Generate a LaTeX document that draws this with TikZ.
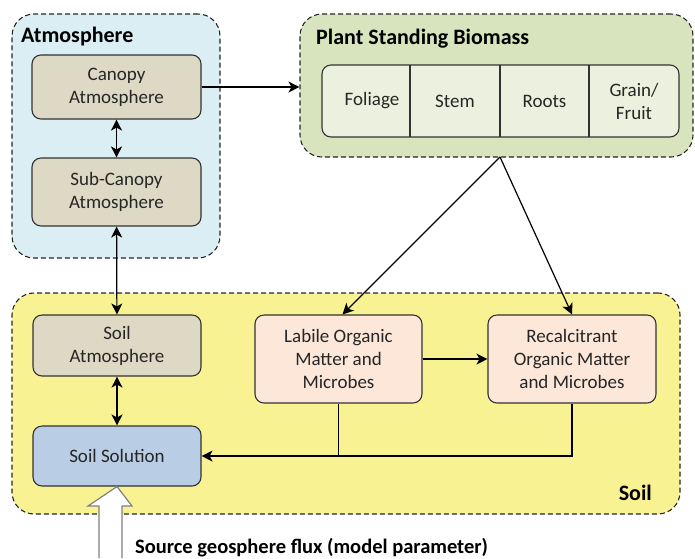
\documentclass[tikz,border=0pt]{standalone}
\usepackage{fontspec}
\setmainfont{Carlito}
\usetikzlibrary{arrows.meta}

\definecolor{atmfill}{RGB}{219,238,244}
\definecolor{tanfill}{RGB}{221,217,196}
\definecolor{plantfill}{RGB}{215,228,189}
\definecolor{organfill}{RGB}{235,241,222}
\definecolor{soilfill}{RGB}{249,242,147}
\definecolor{solfill}{RGB}{185,205,229}
\definecolor{omfill}{RGB}{252,231,217}

\tikzset{
  pool/.style={draw=black!80, line width=1.1pt, rounded corners=9pt, inner sep=0pt,
    align=center, text=black!85, font=\fontsize{19}{23}\selectfont},
  compartment/.style={draw=black!85, line width=1.1pt, dash pattern=on 5pt off 3pt,
    rounded corners=22pt, inner sep=0pt},
  heading/.style={font=\fontsize{22}{26}\selectfont\bfseries, inner sep=0pt},
  flux/.style={line width=1.2pt, -{Stealth[length=11pt,width=11pt,inset=3pt]}},
  exchange/.style={line width=1.2pt, {Stealth[length=11pt,width=11pt,inset=3pt]}-{Stealth[length=11pt,width=11pt,inset=3pt]}}
}

\begin{document}
\begin{tikzpicture}[x=1pt,y=1pt,yscale=-1,xscale=1]
\useasboundingbox (0,0) rectangle (695,558);

% compartments
\node [compartment, fill=atmfill, minimum width=208pt, minimum height=244pt] (atmos) at (116,136) {};
\node [compartment, fill=plantfill, minimum width=393pt, minimum height=143pt] (plant) at (496.5,85.5) {};
\node [compartment, fill=soilfill, minimum width=668pt, minimum height=221pt] (soil) at (346,403.5) {};

\node [heading, anchor=base west] (atmoslbl) at (21,42) {Atmosphere};
\node [heading, anchor=base west] (plantlbl) at (316,44) {Plant Standing Biomass};
\node [heading, anchor=base east] (soillbl) at (652,500) {Soil};

% atmosphere pools
\node [pool, fill=tanfill, minimum width=169pt, minimum height=64pt] (canopy) at (116.5,87) {Canopy\\Atmosphere};
\node [pool, fill=tanfill, minimum width=169pt, minimum height=68pt] (subcanopy) at (116.5,192) {Sub-Canopy\\Atmosphere};

% plant organs
\node [pool, fill=organfill, minimum width=357pt, minimum height=72pt] (organs) at (500.5,101) {};
\draw [line width=1.1pt, black!80] (410,65) -- (410,137);
\draw [line width=1.1pt, black!80] (500,65) -- (500,137);
\draw [line width=1.1pt, black!80] (589,65) -- (589,137);
\node [pool, draw=none, fill=none] (foliage) at (372,101) {Foliage};
\node [pool, draw=none, fill=none] (stem) at (455,101) {Stem};
\node [pool, draw=none, fill=none] (roots) at (544.5,101) {Roots};
\node [pool, draw=none, fill=none] (grain) at (634,101) {Grain/\\Fruit};

% soil pools
\node [pool, fill=tanfill, minimum width=168pt, minimum height=61pt] (soilatm) at (117,345.5) {Soil\\Atmosphere};
\node [pool, fill=solfill, minimum width=168pt, minimum height=60pt] (soilsol) at (117,456) {Soil Solution};
\node [pool, fill=omfill, minimum width=167pt, minimum height=88pt] (labile) at (338.5,359) {Labile Organic\\Matter and\\Microbes};
\node [pool, fill=omfill, minimum width=168pt, minimum height=88pt] (recalc) at (572,359) {Recalcitrant\\Organic Matter\\and Microbes};

% connectors
\coordinate (litter) at (500,157);
\draw [exchange] (canopy) -- (subcanopy);
\draw [flux] (canopy.east) -- (canopy.east -| plant.west);
\draw [exchange] (subcanopy) -- (soilatm);
\draw [exchange] (soilatm) -- (soilsol);
\draw [flux] (litter) -- ([xshift=4pt]labile.north);
\draw [flux] (litter) -- (recalc.north);
\draw [flux] (labile) -- (recalc);
\draw [flux] (labile.south) |- (soilsol.east);
\draw [line width=1.2pt] (recalc.south) |- (labile.south |- soilsol.east);

% geosphere source
\draw [draw=black!50, line width=1.2pt, fill=white] (99,558) -- (99,506) -- (88,506) -- (soilsol.south) -- (132,506) -- (122,506) -- (122,558);
\node [heading, font=\fontsize{20.5}{24}\selectfont\bfseries, anchor=base west] (sourcelbl) at (135,553) {Source geosphere flux (model parameter)};

\end{tikzpicture}
\end{document}
